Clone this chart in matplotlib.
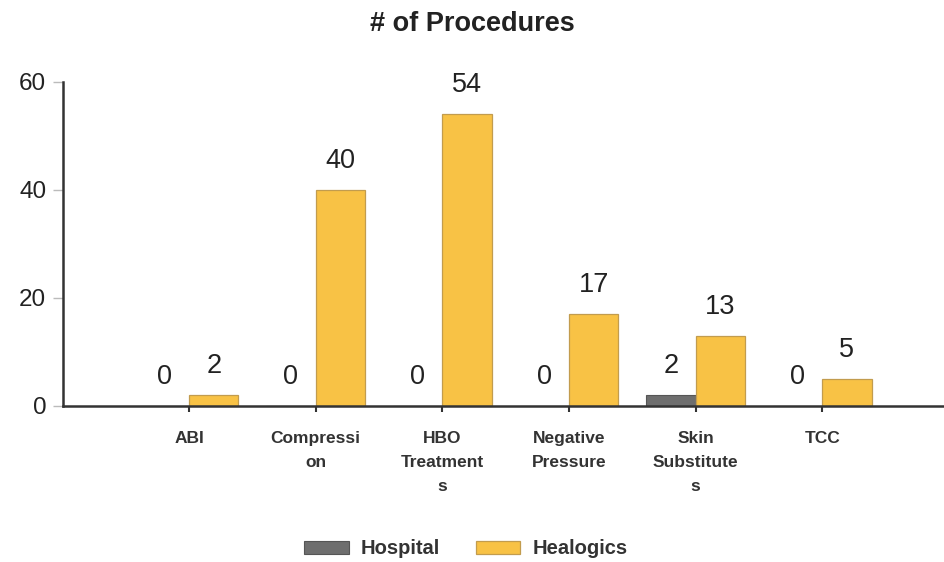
import matplotlib
matplotlib.use("Agg")
import matplotlib.pyplot as plt
import numpy as np

plt.rcParams['font.family'] = ['Liberation Sans', 'DejaVu Sans']

categories = ["ABI", "Compressi\non", "HBO\nTreatment\ns", "Negative\nPressure",
              "Skin\nSubstitute\ns", "TCC"]
hospital = [0, 0, 0, 0, 2, 0]
healogics = [2, 40, 54, 17, 13, 5]

hosp_color = "#6e6e6e"
heal_color = "#f8c245"

fig = plt.figure(figsize=(9.45, 5.62), dpi=100)
ax = fig.add_axes([63 / 945, 1 - 406 / 562, 1 - 63 / 945, (406 - 82) / 562])

x = np.arange(len(categories))
w = 0.39
b1 = ax.bar(x - w / 2, hospital, w, color=hosp_color, edgecolor="#555555", linewidth=0.8,
            label="Hospital")
b2 = ax.bar(x + w / 2, healogics, w, color=heal_color, edgecolor="#c29c4e", linewidth=0.9,
            label="Healogics")

for bars, vals in ((b1, hospital), (b2, healogics)):
    for r, v in zip(bars, vals):
        ax.annotate(str(v), (r.get_x() + r.get_width() / 2, v), xytext=(0, 21),
                    textcoords="offset points", ha="center", va="center",
                    fontsize=19.5, color="#222222")

ax.set_xlim(-0.995, 5.97)
ax.set_ylim(0, 60)
ax.set_yticks([0, 20, 40, 60])
ax.tick_params(axis="y", labelsize=17.5, length=7, color="#bbbbbb", width=1, pad=5,
               labelcolor="#222222")
ax.set_xticks(x)
ax.set_xticklabels(categories, fontsize=12.5, fontweight="bold", color="#333333",
                   linespacing=1.75)
ax.tick_params(axis="x", length=4, width=1.5, color="#333333", pad=14)

for s in ("top", "right"):
    ax.spines[s].set_visible(False)
for s in ("left", "bottom"):
    ax.spines[s].set_color("#333333")
    ax.spines[s].set_linewidth(1.8)

fig.text(0.5, 1 - 24 / 562, "# of Procedures", ha="center", va="center",
         fontsize=19.5, fontweight="bold", color="#222222")

fig.legend(handles=[b1, b2], loc="center", bbox_to_anchor=(466 / 945, 1 - 549 / 562),
           ncol=2, frameon=False, prop={"size": 14.5, "weight": "bold"},
           handlelength=2.2, handleheight=0.6, columnspacing=1.8, handletextpad=0.6,
           labelcolor="#333333")

fig.savefig("out.png", dpi=100)
